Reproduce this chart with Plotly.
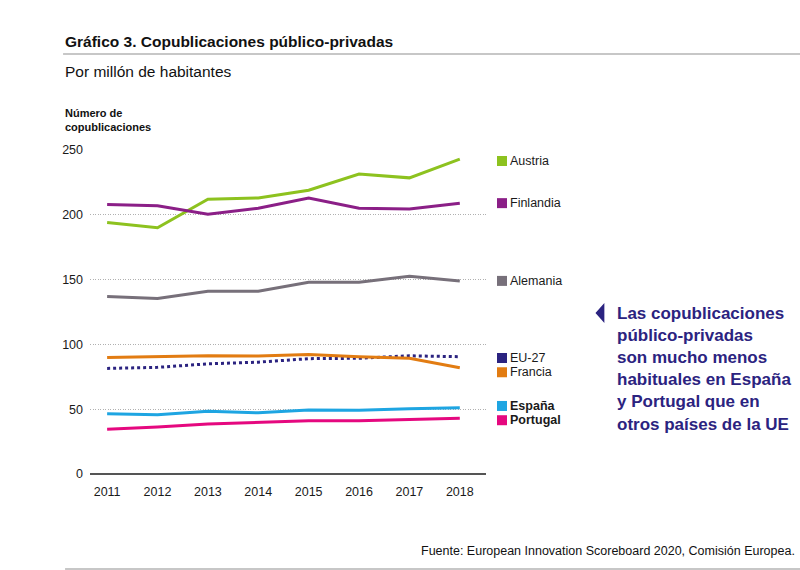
import plotly.graph_objects as go

years = [2011, 2012, 2013, 2014, 2015, 2016, 2017, 2018]

austria = [194, 190, 212, 213, 219, 231.5, 228.5, 243]
finlandia = [208, 207, 200.5, 205, 213, 205, 204.5, 209]
alemania = [137, 135.5, 141, 141, 148, 148, 152.5, 149]
eu27 = [81.5, 82.3, 85, 86.3, 89, 89.3, 91.2, 90.5]
francia = [89.8, 90.7, 91.2, 91, 92.3, 90.5, 89.3, 82]
espana = [46.5, 45.8, 48.5, 47.2, 49.4, 49.2, 50.3, 51.2]
portugal = [34.5, 36.2, 38.5, 39.8, 41.1, 41.1, 42.2, 43]

series = [
    ("Austria", austria, "#8dc21f", "solid", False),
    ("Finlandia", finlandia, "#8b1f87", "solid", False),
    ("Alemania", alemania, "#77707a", "solid", False),
    ("EU-27", eu27, "#2b2380", "dot", False),
    ("Francia", francia, "#e27c12", "solid", False),
    ("España", espana, "#1ea5e2", "solid", True),
    ("Portugal", portugal, "#e5087f", "solid", True),
]

# y position (data units) of each legend label, nudged apart by hand
label_y = {"Austria": 241.5, "Finlandia": 209, "Alemania": 149, "EU-27": 89.5,
           "Francia": 78.5, "España": 52.5, "Portugal": 41.5}

FONT = "Liberation Sans"
DARK = "#1a1a1a"
NAVY = "#2b2380"

fig = go.Figure()

for name, vals, color, dash, bold in series:
    fig.add_trace(go.Scatter(x=years, y=vals, mode="lines", name=name,
                             line=dict(color=color, width=3, dash=dash),
                             hoverinfo="x+y+name"))
    fig.add_shape(type="rect", xref="paper", yref="y",
                  xsizemode="pixel", ysizemode="pixel",
                  xanchor=1.0, yanchor=label_y[name],
                  x0=11, x1=21, y0=-5, y1=5,
                  fillcolor=color, line_width=0)
    fig.add_annotation(xref="paper", yref="y", x=1.0, y=label_y[name],
                       xshift=22, xanchor="left", yanchor="middle",
                       text=f"<b>{name}</b>" if bold else name,
                       showarrow=False, font=dict(size=12.5, color=DARK, family=FONT))

# titles
fig.add_annotation(xref="paper", yref="paper", x=-0.068, y=1.336,
                   xanchor="left", yanchor="middle", showarrow=False,
                   text="<b>Gráfico 3. Copublicaciones público-privadas</b>",
                   font=dict(size=15.5, color="#111", family=FONT))
fig.add_annotation(xref="paper", yref="paper", x=-0.068, y=1.241,
                   xanchor="left", yanchor="middle", showarrow=False,
                   text="Por millón de habitantes",
                   font=dict(size=15.5, color="#111", family=FONT))
fig.add_annotation(xref="paper", yref="paper", x=-0.068, y=1.045,
                   xanchor="left", yanchor="bottom", showarrow=False, align="left",
                   text="<b>Número de<br>copublicaciones</b>",
                   font=dict(size=11, color="#111", family=FONT))
fig.add_annotation(xref="paper", yref="paper", x=1.785, y=-0.238,
                   xanchor="right", yanchor="middle", showarrow=False,
                   text="Fuente: European Innovation Scoreboard 2020, Comisión Europea.",
                   font=dict(size=12.5, color="#111", family=FONT))

# callout
fig.add_annotation(xref="paper", yref="paper", x=1.326, y=0.531,
                   xanchor="left", yanchor="top", showarrow=False, align="left",
                   text="<b>Las copublicaciones<br>público-privadas<br>son mucho menos<br>"
                        "habituales en España<br>y Portugal que en<br>otros países de la UE</b>",
                   font=dict(size=17, color=NAVY, family=FONT))
fig.add_shape(type="path", xref="paper", yref="paper",
              path="M 1.279,0.497 L 1.297,0.522 L 1.297,0.472 Z",
              fillcolor=NAVY, line=dict(color=NAVY, width=1.5))

# horizontal rules under title and at bottom
fig.add_shape(type="line", xref="paper", yref="paper", x0=-0.068, x1=1.8,
              y0=1.296, y1=1.296, line=dict(color="#b5b5b5", width=1.5))
fig.add_shape(type="line", xref="paper", yref="paper", x0=-0.063, x1=1.8,
              y0=-0.293, y1=-0.293, line=dict(color="#b5b5b5", width=1.5))

fig.update_layout(
    width=800, height=570,
    margin=dict(l=90, r=314, t=150, b=96),
    plot_bgcolor="white", paper_bgcolor="white",
    showlegend=False,
    font=dict(family=FONT, color=DARK),
    xaxis=dict(range=[2010.66, 2018.52], tickvals=years, showgrid=False,
               zeroline=False, showline=False, ticks="", ticklabelstandoff=8,
               tickfont=dict(size=12.5, color=DARK), fixedrange=True),
    yaxis=dict(range=[0, 250], tickvals=[0, 50, 100, 150, 200, 250],
               showgrid=True, gridcolor="#b0b0b0", griddash="1px,1.5px", gridwidth=1,
               zeroline=True, zerolinecolor="#555", zerolinewidth=1.5,
               showline=False, ticks="", ticklabelstandoff=6,
               tickfont=dict(size=12.5, color=DARK), fixedrange=True),
)

fig.write_html("out.html", config={"displayModeBar": False},
               post_script="document.body.style.margin='0';")
